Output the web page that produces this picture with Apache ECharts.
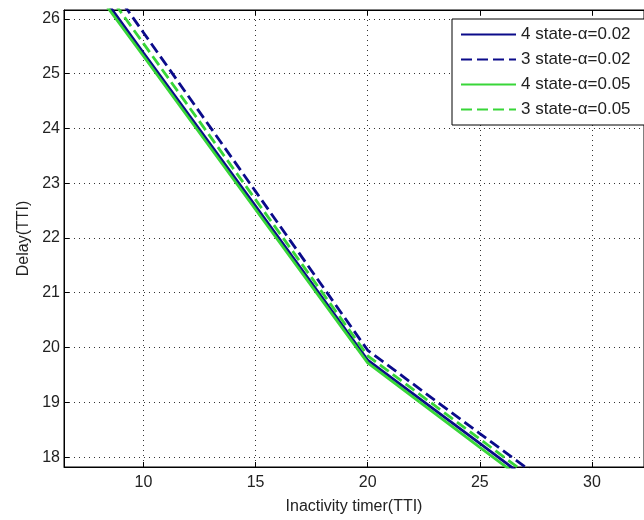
<!DOCTYPE html>
<html>
<head>
<meta charset="utf-8">
<script src="https://cdn.jsdelivr.net/npm/echarts@6/dist/echarts.min.js"></script>
<style>
html,body{margin:0;padding:0;background:#fff;}
#chart{width:644px;height:520px;}
</style>
</head>
<body>
<div id="chart"></div>
<script>
// ---- data ----
var xValues = [5, 10, 15, 20, 25, 30];
var state4a002 = [28.2, 25.38, 22.58, 19.77, 18.25, 16.72];
var state3a002 = [28.65, 25.75, 22.85, 19.95, 18.43, 16.92];
var state4a005 = [28.1, 25.32, 22.52, 19.72, 18.18, 16.65];
var state3a005 = [28.4, 25.55, 22.7, 19.85, 18.33, 16.8];
var seriesNames = ['4 state-\u03b1=0.02', '3 state-\u03b1=0.02', '4 state-\u03b1=0.05', '3 state-\u03b1=0.05'];
var xTicks = [10, 15, 20, 25, 30];
var yTicks = [18, 19, 20, 21, 22, 23, 24, 25, 26];
var xName = 'Inactivity timer(TTI)';
var yName = 'Delay(TTI)';

function pairs(ys) { return xValues.map(function (x, i) { return [x, ys[i]]; }); }

var BLUE = '#0b0b8a';
var GREEN = '#38d638';
var FONT = 'Liberation Sans, Arial, sans-serif';
var FS = 16;
var TXT = '#222';

var chart = echarts.init(document.getElementById('chart'), null, {renderer: 'canvas'});

function mkSeries(name, ys, color, dashed) {
  return {
    name: name, type: 'line', data: pairs(ys), symbol: 'none', showSymbol: false, smooth: false,
    clip: true, animation: false,
    lineStyle: {color: color, width: 2.8, type: dashed ? [11, 5] : 'solid'},
    itemStyle: {color: color}
  };
}

var option = {
  backgroundColor: '#fff',
  animation: false,
  grid: {left: 64, top: 10, right: -6, bottom: 47, show: true, borderColor: '#000', borderWidth: 1, backgroundColor: '#fff'},
  legend: {
    orient: 'vertical', left: 452, top: 19,
    backgroundColor: '#fff', borderColor: '#000', borderWidth: 1, borderRadius: 0,
    padding: [7, 40, 7, 8], itemWidth: 55, itemHeight: 18, itemGap: 8,
    itemStyle: {color: 'rgba(0,0,0,0)', borderWidth: 0, opacity: 0},
    textStyle: {fontFamily: FONT, fontSize: 17, color: TXT},
    data: seriesNames.map(function (n) { return {name: n}; })
  },
  xAxis: [{
    type: 'value', min: 6.46, max: 32.32,
    name: xName, nameLocation: 'middle', nameGap: 32,
    nameTextStyle: {fontFamily: FONT, fontSize: FS, color: TXT},
    axisLine: {show: true, onZero: false, lineStyle: {color: '#000', width: 1}},
    axisTick: {show: true, inside: true, length: 5, customValues: xTicks, lineStyle: {color: '#000'}},
    axisLabel: {customValues: xTicks, fontFamily: FONT, fontSize: FS, color: TXT, margin: 8},
    splitLine: {show: true, lineStyle: {color: '#333', width: 1, type: [1, 4]}}
  }, {
    type: 'value', position: 'top', min: 6.46, max: 32.32,
    axisLine: {show: true, onZero: false, lineStyle: {color: '#000'}},
    axisTick: {show: true, inside: true, length: 5, customValues: xTicks, lineStyle: {color: '#000'}},
    axisLabel: {show: false},
    splitLine: {show: false}
  }],
  yAxis: [{
    type: 'value', min: 17.82, max: 26.16,
    name: yName, nameLocation: 'middle', nameGap: 32, nameRotate: 90,
    nameTextStyle: {fontFamily: FONT, fontSize: FS, color: TXT},
    axisLine: {show: true, onZero: false, lineStyle: {color: '#000', width: 1}},
    axisTick: {show: true, inside: true, length: 5, customValues: yTicks, lineStyle: {color: '#000'}},
    axisLabel: {customValues: yTicks, fontFamily: FONT, fontSize: FS, color: TXT, margin: 4},
    splitLine: {show: true, lineStyle: {color: '#333', width: 1, type: [1, 4]}}
  }],
  series: [
    mkSeries(seriesNames[0], state4a002, BLUE, false),
    mkSeries(seriesNames[1], state3a002, BLUE, true),
    mkSeries(seriesNames[2], state4a005, GREEN, false),
    mkSeries(seriesNames[3], state3a005, GREEN, true)
  ]
};
chart.setOption(option);
</script>
</body>
</html>
